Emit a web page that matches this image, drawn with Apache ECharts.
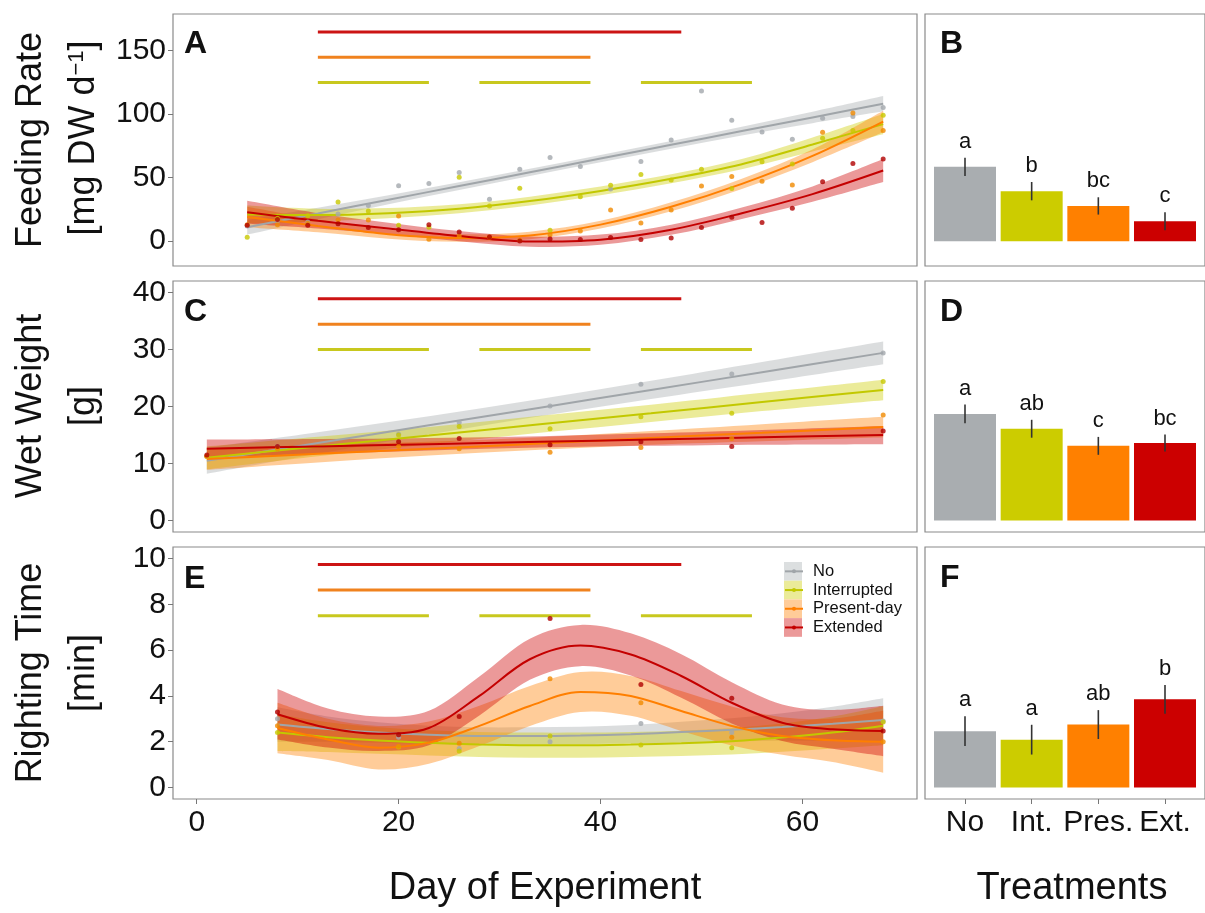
<!DOCTYPE html>
<html>
<head>
<meta charset="utf-8">
<script src="https://cdn.jsdelivr.net/npm/echarts@6/dist/echarts.min.js"></script>
<style>
  html, body { margin: 0; padding: 0; background: #fff; }
  #chart { width: 1205px; height: 913px; }
</style>
</head>
<body>
<div id="chart"></div>
<script>
// ---- Treatments ----
const treatments = ['No', 'Interrupted', 'Present-day', 'Extended'];
const treatmentShort = ['No', 'Int.', 'Pres.', 'Ext.'];

// ---- Heatwave durations (days) ----
const extDuration = [12, 48];
const presDuration = [12, 39];
const intDurations = [[12, 23], [28, 39], [44, 55]];

// ---- Feeding rate [mg DW d-1] ----
const frDays = [5, 8, 11, 14, 17, 20, 23, 26, 29, 32, 35, 38, 41, 44, 47, 50, 53, 56, 59, 62, 65, 68];
const frNo   = [12, 16, 15, 21.3, 28, 43.5, 45.3, 54, 33, 56.6, 65.7, 58.7, 41, 62.6, 79.5, 118, 95, 85.8, 80, 96.5, 98, 105];
const frInt  = [3, 18, 20, 30.8, 23.7, 12.6, 11, 50.3, 27.7, 41.6, 8.5, 35, 44, 52.4, 48, 56.6, 41.3, 62.5, 60.6, 80.8, 87, 99];
const frPres = [13, 13, 14, 16.6, 16.6, 19.7, 1.5, 4, 3, 1, 5, 8, 24.5, 14.3, 24.5, 43.4, 50.8, 47.1, 44.2, 85.6, 100.8, 86.9];
const frExt  = [12.5, 17, 12.5, 13.7, 10.8, 9, 13, 7.2, 3.2, 0.2, 1.8, 1.4, 2.9, 1.3, 2.5, 10.8, 18.8, 14.7, 25.9, 46.6, 61, 64.5];
const frFitDays = [5, 12, 19, 26, 33, 40, 47, 54, 61, 68];
const frFitNo   = [11, 21.8, 32.6, 43.3, 54.1, 64.9, 75.7, 86.5, 97.2, 108];
const frFitInt  = [21, 20.5, 22, 25.5, 31.5, 39.5, 49, 60.5, 76, 92];
const frFitPres = [19, 12, 5.5, 2.5, 4.5, 13, 27, 45, 67, 94];
const frFitExt  = [22.7, 16, 10, 4, -0.3, 1.2, 9, 22, 37, 55.5];
const frCiNo    = [5.8, 4.5, 3.5, 3, 2.8, 2.8, 3, 3.5, 4.5, 6];
const frCiInt   = [7, 5, 4, 3.5, 3.5, 3.5, 3.5, 4, 5.5, 8];
const frCiPres  = [8, 5, 3.5, 3, 3, 3, 3.5, 4, 5, 8.5];
const frCiExt   = [9, 6, 4.5, 4, 4, 4, 4, 4.5, 6, 9];
const frDurLevels = [164.4, 144.5, 124.7];
const frTicks = [0, 50, 100, 150];
const frMean = [58.4, 39.3, 27.7, 15.7];
const frSe   = [7.1, 7.2, 6.8, 7.1];
const frLetters = ['a', 'b', 'bc', 'c'];

// ---- Wet weight [g] ----
const wwDays = [1, 8, 20, 26, 35, 44, 53, 68];
const wwNo   = [11.3, 13, 15.2, 17.2, 20.1, 23.9, 25.7, 29.4];
const wwInt  = [11.3, 12.6, 15, 16.5, 16.1, 18.2, 18.8, 24.4];
const wwPres = [11.3, 12.6, 13, 12.6, 12, 12.8, 14.4, 18.5];
const wwExt  = [11.5, 13, 13.8, 14.4, 13.3, 13.8, 13, 15.7];
const wwFitDays = [1, 12, 23, 34, 45, 56, 68];
const wwFitNo   = [10.5, 13.6, 16.7, 19.8, 22.9, 26.0, 29.4];
const wwFitInt  = [11.0, 13.0, 14.9, 16.9, 18.8, 20.8, 22.9];
const wwFitPres = [10.8, 11.7, 12.6, 13.5, 14.5, 15.4, 16.4];
const wwFitExt  = [12.6, 13.0, 13.4, 13.8, 14.2, 14.6, 15.0];
const wwCiNo    = [2.3, 1.9, 1.6, 1.5, 1.6, 1.8, 2.0];
const wwCiInt   = [2.0, 1.7, 1.5, 1.5, 1.5, 1.6, 1.8];
const wwCiPres  = [1.9, 1.5, 1.2, 1.1, 1.2, 1.5, 1.8];
const wwCiExt   = [1.6, 1.3, 1.1, 1.0, 1.1, 1.3, 1.6];
const wwDurLevels = [38.9, 34.4, 30.0];
const wwTicks = [0, 10, 20, 30, 40];
const wwMean = [18.7, 16.1, 13.1, 13.6];
const wwSe   = [1.65, 1.57, 1.57, 1.5];
const wwLetters = ['a', 'ab', 'c', 'bc'];

// ---- Righting time [min] ----
const rtDays = [8, 20, 26, 35, 44, 53, 68];
const rtNo   = [3.0, 2.2, 1.7, 2.0, 2.8, 2.4, 2.9];
const rtInt  = [2.4, 1.77, 1.6, 2.25, 1.86, 1.74, 2.86];
const rtPres = [2.7, 1.8, 1.93, 4.75, 3.7, 2.2, 2.0];
const rtExt  = [3.3, 2.3, 3.1, 7.38, 4.5, 3.9, 2.47];
const rtFitDays = [8, 13, 18, 23, 28, 33, 38, 43, 48, 53, 58, 63, 68];
const rtFitNo   = [2.75, 2.55, 2.4, 2.3, 2.25, 2.25, 2.27, 2.33, 2.42, 2.52, 2.64, 2.78, 2.95];
const rtFitInt  = [2.4, 2.2, 2.05, 1.95, 1.88, 1.85, 1.85, 1.88, 1.93, 2.02, 2.18, 2.4, 2.7];
const rtFitPres = [2.6, 2.1, 1.74, 1.96, 2.69, 3.56, 4.17, 4.0, 3.34, 2.69, 2.25, 2.06, 2.0];
const rtFitExt  = [3.2, 2.6, 2.35, 2.6, 4.0, 5.6, 6.2, 5.81, 4.87, 3.7, 2.83, 2.54, 2.47];
const rtCiNo    = [0.75, 0.55, 0.45, 0.4, 0.38, 0.38, 0.38, 0.4, 0.45, 0.5, 0.6, 0.75, 0.95];
const rtCiInt   = [0.8, 0.65, 0.58, 0.55, 0.55, 0.55, 0.55, 0.55, 0.55, 0.58, 0.62, 0.7, 0.85];
const rtCiPres  = [1.1, 0.9, 0.95, 0.92, 0.88, 0.87, 0.87, 0.87, 0.87, 0.85, 0.82, 0.95, 1.35];
const rtCiExt   = [1.1, 0.85, 0.75, 0.75, 0.85, 0.9, 0.9, 0.92, 0.95, 0.9, 0.8, 0.85, 1.1];
const rtDurLevels = [9.74, 8.62, 7.5];
const rtTicks = [0, 2, 4, 6, 8, 10];
const rtMean = [2.46, 2.09, 2.75, 3.85];
const rtSe   = [0.65, 0.65, 0.63, 0.63];
const rtLetters = ['a', 'a', 'ab', 'b'];

const dayTicks = [0, 20, 40, 60];

// ---- Styling ----
const FONT = 'Liberation Sans, Arial, Helvetica, sans-serif';
const lineColors  = ['#a0a5a9', '#c2c800', '#ff7f00', '#c40000'];
const pointColors = ['#a3a8ac', '#c8c800', '#f08a00', '#b00000'];
const bandColors  = ['rgba(169,174,177,0.42)', 'rgba(204,204,0,0.40)', 'rgba(255,128,0,0.40)', 'rgba(204,0,0,0.40)'];
const bandKeyColors = ['#dcdfe0', '#ebeb99', '#ffcc99', '#eb9999'];
const barColors   = ['#a9adb0', '#cccc00', '#ff8000', '#cc0000'];
const durColors   = ['#cc1414', '#f0821e', '#c8c81e'];

// Panel geometry
const leftX = 173, leftW = 744, rightX = 925, rightW = 291;
const rows = [{ top: 14, height: 252 }, { top: 281, height: 251 }, { top: 547, height: 252 }];
const yRanges = [[-19.5, 178.5], [-2, 42], [-0.5, 10.5]];
const xRange = [-2.35, 71.35];

const grids = [];
rows.forEach(r => grids.push({ left: leftX, width: leftW, top: r.top, height: r.height, show: true, borderColor: '#8a8a8a', borderWidth: 1.2, backgroundColor: '#fff' }));
rows.forEach(r => grids.push({ left: rightX, width: rightW, top: r.top, height: r.height, show: true, borderColor: '#8a8a8a', borderWidth: 1.2, backgroundColor: '#fff' }));

const xAxes = [], yAxes = [];
const yTicks = [frTicks, wwTicks, rtTicks];
for (let i = 0; i < 3; i++) {
  const bottom = i === 2;
  xAxes.push({
    gridIndex: i, type: 'value', min: xRange[0], max: xRange[1], position: 'bottom',
    axisLine: { show: false, onZero: false }, splitLine: { show: false },
    axisTick: { show: bottom, customValues: dayTicks, length: 5, lineStyle: { color: '#777' } },
    axisLabel: { show: bottom, customValues: dayTicks, fontSize: 30, margin: 9, color: '#111', fontFamily: FONT }
  });
  yAxes.push({
    gridIndex: i, type: 'value', min: yRanges[i][0], max: yRanges[i][1], position: 'left',
    axisLine: { show: false, onZero: false }, splitLine: { show: false },
    axisTick: { show: true, customValues: yTicks[i], length: 5, lineStyle: { color: '#777' } },
    axisLabel: { show: true, customValues: yTicks[i], fontSize: 30, margin: 7, color: '#111', fontFamily: FONT }
  });
}
for (let i = 0; i < 3; i++) {
  const bottom = i === 2;
  xAxes.push({
    gridIndex: 3 + i, type: 'value', min: 0.4, max: 4.6, position: 'bottom',
    axisLine: { show: false, onZero: false }, splitLine: { show: false },
    axisTick: { show: bottom, customValues: [1, 2, 3, 4], length: 5, lineStyle: { color: '#777' } },
    axisLabel: { show: bottom, customValues: [1, 2, 3, 4], fontSize: 30, margin: 9, color: '#111', fontFamily: FONT,
      formatter: v => treatmentShort[Math.round(v) - 1] || '' }
  });
  yAxes.push({
    gridIndex: 3 + i, type: 'value', min: yRanges[i][0], max: yRanges[i][1], position: 'left',
    axisLine: { show: false, onZero: false }, splitLine: { show: false },
    axisTick: { show: false }, axisLabel: { show: false }
  });
}

// Cubic Bezier segments passing through each projected point (Catmull-Rom tangents)
function curveCommands(pts) {
  let d = '';
  const n = pts.length;
  for (let i = 0; i < n - 1; i++) {
    const p0 = pts[Math.max(i - 1, 0)], p1 = pts[i], p2 = pts[i + 1], p3 = pts[Math.min(i + 2, n - 1)];
    const c1x = p1[0] + (p2[0] - p0[0]) / 6, c1y = p1[1] + (p2[1] - p0[1]) / 6;
    const c2x = p2[0] - (p3[0] - p1[0]) / 6, c2y = p2[1] - (p3[1] - p1[1]) / 6;
    d += ` C ${c1x} ${c1y} ${c2x} ${c2y} ${p2[0]} ${p2[1]}`;
  }
  return d;
}

// Confidence band: smoothed upper edge, straight end, smoothed lower edge back
function bandSeries(gi, k, fitDays, fit, ci) {
  return {
    type: 'custom', name: treatments[k] + ' band', xAxisIndex: gi, yAxisIndex: gi, z: 1, silent: true,
    itemStyle: { color: bandKeyColors[k] },
    data: fitDays.map((d, i) => [d, fit[i] - ci[i], fit[i] + ci[i]]),
    renderItem: (params, api) => {
      if (params.dataIndexInside !== 0) return null;
      const n = params.dataInsideLength;
      const upper = [], lower = [];
      for (let i = 0; i < n; i++) {
        const x = api.value(0, i);
        upper.push(api.coord([x, api.value(2, i)]));
        lower.push(api.coord([x, api.value(1, i)]));
      }
      lower.reverse();
      const path = `M ${upper[0][0]} ${upper[0][1]}` + curveCommands(upper) +
        ` L ${lower[0][0]} ${lower[0][1]}` + curveCommands(lower) + ' Z';
      return { type: 'path', shape: { pathData: path }, style: { fill: bandColors[k], stroke: null } };
    }
  };
}

// Time-course panel: confidence bands, fitted curves, observations and heatwave bars
function timePanel(gi, days, obs, fitDays, fits, cis, durLevels) {
  const s = [];
  for (let k = 0; k < 4; k++) s.push(bandSeries(gi, k, fitDays, fits[k], cis[k]));
  for (let k = 0; k < 4; k++) {
    s.push({
      type: 'line', name: treatments[k], xAxisIndex: gi, yAxisIndex: gi, z: 3,
      data: fitDays.map((d, i) => [d, fits[k][i]]),
      smooth: 0.33, symbol: 'circle', symbolSize: 4, showSymbol: false,
      lineStyle: { color: lineColors[k], width: 2 }, itemStyle: { color: lineColors[k] }
    });
  }
  for (let k = 0; k < 4; k++) {
    s.push({
      type: 'scatter', xAxisIndex: gi, yAxisIndex: gi, z: 4,
      data: days.map((d, i) => [d, obs[k][i]]),
      symbolSize: 5, itemStyle: { color: pointColors[k] }
    });
  }
  const durLine = (seg, level, color) => ({
    type: 'line', xAxisIndex: gi, yAxisIndex: gi, z: 3, silent: true,
    data: [[seg[0], level], [seg[1], level]], symbol: 'none',
    lineStyle: { color, width: 3, cap: 'butt' }
  });
  s.push(durLine(extDuration, durLevels[0], durColors[0]));
  s.push(durLine(presDuration, durLevels[1], durColors[1]));
  intDurations.forEach(seg => s.push(durLine(seg, durLevels[2], durColors[2])));
  return s;
}

// Treatment means with standard errors and significance letters
function barPanel(gi, means, ses, letters) {
  return [
    {
      type: 'bar', xAxisIndex: gi, yAxisIndex: gi, barWidth: 62, z: 2,
      data: means.map((m, i) => ({ value: [i + 1, m], itemStyle: { color: barColors[i] } }))
    },
    {
      type: 'custom', xAxisIndex: gi, yAxisIndex: gi, z: 5,
      data: means.map((m, i) => [i + 1, m - ses[i], m + ses[i]]),
      renderItem: (params, api) => {
        const lo = api.coord([api.value(0), api.value(1)]);
        const hi = api.coord([api.value(0), api.value(2)]);
        return {
          type: 'group',
          children: [
            { type: 'line', shape: { x1: lo[0], y1: lo[1], x2: hi[0], y2: hi[1] }, style: { stroke: '#333', lineWidth: 1.6 } },
            { type: 'text', style: { text: letters[params.dataIndex], x: hi[0], y: hi[1] - 5, align: 'center', verticalAlign: 'bottom', fontSize: 22, fontFamily: FONT, fill: '#111' } }
          ]
        };
      }
    }
  ];
}

const series = [].concat(
  timePanel(0, frDays, [frNo, frInt, frPres, frExt], frFitDays, [frFitNo, frFitInt, frFitPres, frFitExt], [frCiNo, frCiInt, frCiPres, frCiExt], frDurLevels),
  timePanel(1, wwDays, [wwNo, wwInt, wwPres, wwExt], wwFitDays, [wwFitNo, wwFitInt, wwFitPres, wwFitExt], [wwCiNo, wwCiInt, wwCiPres, wwCiExt], wwDurLevels),
  timePanel(2, rtDays, [rtNo, rtInt, rtPres, rtExt], rtFitDays, [rtFitNo, rtFitInt, rtFitPres, rtFitExt], [rtCiNo, rtCiInt, rtCiPres, rtCiExt], rtDurLevels),
  barPanel(3, frMean, frSe, frLetters),
  barPanel(4, wwMean, wwSe, wwLetters),
  barPanel(5, rtMean, rtSe, rtLetters)
);

// Axis titles and panel tags
const txt = (text, x, y, size, extra) => Object.assign({
  type: 'text', x, y, silent: true,
  style: Object.assign({ text, fontSize: size, fontFamily: FONT, fill: '#111', align: 'center', verticalAlign: 'middle' }, (extra && extra.style) || {})
}, extra && extra.rotation ? { rotation: extra.rotation } : {});

const R = Math.PI / 2;
const graphics = [
  txt('Day of Experiment', 545, 889, 38),
  txt('Treatments', 1072, 889, 38),
  txt('Feeding Rate', 31, 140, 36, { rotation: R }),
  {
    type: 'text', x: 84, y: 138, rotation: R, silent: true,
    style: {
      text: '{m|[mg DW d}{s|\u22121}{m|]}', align: 'center', verticalAlign: 'middle', fill: '#111',
      rich: { m: { fontSize: 36, fontFamily: FONT, fill: '#111' }, s: { fontSize: 22, fontFamily: FONT, fill: '#111', verticalAlign: 'top' } }
    }
  },
  txt('Wet Weight', 31, 406, 36, { rotation: R }),
  txt('[g]', 84, 406, 36, { rotation: R }),
  txt('Righting Time', 31, 673, 36, { rotation: R }),
  txt('[min]', 84, 673, 36, { rotation: R })
];
const tags = [['A', 184, 44], ['C', 184, 312], ['E', 184, 579], ['B', 940, 44], ['D', 940, 312], ['F', 940, 578]];
tags.forEach(t => graphics.push(txt(t[0], t[1], t[2], 32, { style: { fontWeight: 'bold', align: 'left' } })));

const option = {
  animation: false,
  backgroundColor: '#fff',
  textStyle: { fontFamily: FONT },
  grid: grids,
  xAxis: xAxes,
  yAxis: yAxes,
  legend: [
    {
      orient: 'vertical', left: 784, top: 562, padding: 0, itemGap: 0,
      itemWidth: 18, itemHeight: 18.7, icon: 'rect', selectedMode: false,
      itemStyle: { borderWidth: 0 },
      data: treatments.map((t, k) => ({ name: t + ' band', itemStyle: { color: bandKeyColors[k], borderWidth: 0 } })),
      formatter: () => ''
    },
    {
      orient: 'vertical', left: 784, top: 562, padding: 0, itemGap: 0,
      itemWidth: 18, itemHeight: 5, selectedMode: false,
      data: treatments,
      textStyle: { fontSize: 16.5, lineHeight: 18.7, color: '#111', fontFamily: FONT, padding: [0, 0, 0, 5] }
    }
  ],
  graphic: graphics,
  series
};

const chart = echarts.init(document.getElementById('chart'), null, { renderer: 'canvas' });
chart.setOption(option);
</script>
</body>
</html>
